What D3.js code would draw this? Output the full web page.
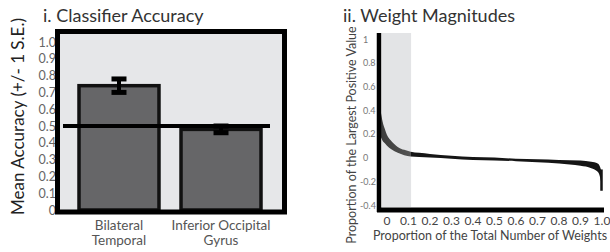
<!DOCTYPE html>
<html>
<head>
<meta charset="utf-8">
<script src="https://cdnjs.cloudflare.com/ajax/libs/d3/7.8.5/d3.min.js"></script>
<style>
  body { margin: 0; background: #fff; }
  text { font-family: Lato, "Open Sans", sans-serif; }
</style>
</head>
<body>
<div class="chart_container"></div>
<script>
// 左圖資料
const categories = ['Bilateral|Temporal', 'Inferior Occipital|Gyrus']
const accuracy = [0.74, 0.48]
const stdErr = [0.04, 0.02]
const chance = 0.5
const accTicks = [0, 0.1, 0.2, 0.3, 0.4, 0.5, 0.6, 0.7, 0.8, 0.9, 1.0]

// 右圖資料 (權重分布的上下緣)
const weightX = [-0.03, -0.02, -0.01, 0, 0.02, 0.05, 0.08, 0.11, 0.15, 0.2, 0.3, 0.4, 0.5, 0.6, 0.7, 0.8, 0.9, 0.95, 0.98, 0.995, 1.0]
const weightUpper = [0.40, 0.30, 0.24, 0.19, 0.14, 0.09, 0.065, 0.05, 0.04, 0.03, 0.015, 0.005, 0, -0.01, -0.015, -0.02, -0.025, -0.035, -0.05, -0.1, -0.28]
const weightLower = [0.18, 0.14, 0.12, 0.10, 0.07, 0.04, 0.02, 0.01, 0.005, 0, -0.01, -0.02, -0.025, -0.03, -0.04, -0.05, -0.07, -0.09, -0.12, -0.2, -0.28]
const weightYTicks = [1, 0.8, 0.6, 0.4, 0.2, 0, -0.2, -0.4]
const weightXTicks = [0, 0.1, 0.2, 0.3, 0.4, 0.5, 0.6, 0.7, 0.8, 0.9, 1.0]
const shadedRange = [-0.023, 0.112]

const svg = d3.select('.chart_container').append('svg')
    .attr('width', 610).attr('height', 252)

// ---------- i. Classifier Accuracy ----------
const left = svg.append('g')
const frame = { x0: 57.5, x1: 284.5, y0: 31.5, y1: 212 }
const yAcc = d3.scaleLinear().domain([0, 1]).range([210, 42])
const xAcc = d3.scaleBand().domain(categories).range([79, 261]).paddingInner(0.216).paddingOuter(0)

left.append('text').attr('x', 43).attr('y', 22)
    .text('i. Classifier Accuracy')
    .style('font-size', '18px').style('fill', '#333')

left.append('text')
    .attr('transform', `translate(24,${(20 + 213) / 2}) rotate(-90)`)
    .attr('text-anchor', 'middle')
    .text('Mean Accuracy  (+/- 1 S.E.)')
    .style('font-size', '17px').style('fill', '#222')

// 刻度文字 (被外框蓋住一部分)
left.append('g').selectAll('text').data(accTicks).enter().append('text')
    .attr('x', 56).attr('y', d => yAcc(d))
    .attr('text-anchor', 'end').attr('dominant-baseline', 'central')
    .text(d => d === 0 ? '0' : d3.format('.1f')(d))
    .style('font-size', '12.5px').style('fill', '#666')

left.append('rect')
    .attr('x', frame.x0).attr('y', frame.y0)
    .attr('width', frame.x1 - frame.x0).attr('height', frame.y1 - frame.y0)
    .style('fill', '#e6e7e9')

left.append('g').selectAll('rect').data(categories).enter().append('rect')
    .attr('x', d => xAcc(d))
    .attr('y', (d, i) => yAcc(accuracy[i]))
    .attr('width', xAcc.bandwidth())
    .attr('height', (d, i) => yAcc(0) - yAcc(accuracy[i]))
    .style('fill', '#666668').style('stroke', '#111').style('stroke-width', 3.5)

left.append('line')
    .attr('x1', 63).attr('x2', 270)
    .attr('y1', yAcc(chance)).attr('y2', yAcc(chance))
    .style('stroke', '#000').style('stroke-width', 4)

// 誤差線
const errG = left.append('g').selectAll('g').data(categories).enter().append('g')
    .attr('transform', d => `translate(${xAcc(d) + xAcc.bandwidth() / 2},0)`)
errG.append('line')
    .attr('y1', (d, i) => yAcc(accuracy[i] - stdErr[i]))
    .attr('y2', (d, i) => yAcc(accuracy[i] + stdErr[i]))
    .style('stroke', '#000').style('stroke-width', 4)
errG.selectAll('.cap').data((d, i) => [accuracy[i] - stdErr[i], accuracy[i] + stdErr[i]])
    .enter().append('line').attr('class', 'cap')
    .attr('x1', -7.5).attr('x2', 7.5)
    .attr('y1', d => yAcc(d)).attr('y2', d => yAcc(d))
    .style('stroke', '#000').style('stroke-width', 5)

left.append('rect')
    .attr('x', frame.x0).attr('y', frame.y0)
    .attr('width', frame.x1 - frame.x0).attr('height', frame.y1 - frame.y0)
    .style('fill', 'none').style('stroke', '#000').style('stroke-width', 5)

categories.forEach(c => {
    const lines = c.split('|')
    left.append('text')
        .attr('x', xAcc(c) + xAcc.bandwidth() / 2).attr('y', 230)
        .attr('text-anchor', 'middle')
        .selectAll('tspan').data(lines).enter().append('tspan')
        .attr('x', xAcc(c) + xAcc.bandwidth() / 2)
        .attr('dy', (d, i) => i === 0 ? 0 : 15)
        .text(d => d)
        .style('font-size', '13.5px').style('fill', '#555')
})

// ---------- ii. Weight Magnitudes ----------
const right = svg.append('g')
const xW = d3.scaleLinear().domain([0, 1]).range([387, 602])
const yW = d3.scaleLinear().domain([-0.4, 1]).range([205, 39])

right.append('text').attr('x', 343).attr('y', 22)
    .text('ii. Weight Magnitudes')
    .style('font-size', '18px').style('fill', '#333')

right.append('rect')
    .attr('x', xW(shadedRange[0])).attr('y', 33)
    .attr('width', xW(shadedRange[1]) - xW(shadedRange[0]))
    .attr('height', 207 - 33)
    .style('fill', '#e3e4e6')

right.append('text')
    .attr('transform', `translate(356,${(30 + 240) / 2}) rotate(-90)`)
    .attr('text-anchor', 'middle')
    .text('Proportion of the Largest Positive Value')
    .style('font-size', '12.5px').style('fill', '#444')

right.append('g').selectAll('text').data(weightYTicks).enter().append('text')
    .attr('x', d => d < 0 ? 360 : 363).attr('y', d => yW(d))
    .attr('dominant-baseline', 'central')
    .text(d => d)
    .style('font-size', '9px').style('fill', '#777')

// 曲線陰影區內為灰色
const grad = svg.append('defs').append('linearGradient')
    .attr('id', 'bandGrad').attr('gradientUnits', 'userSpaceOnUse')
    .attr('x1', xW(-0.04)).attr('x2', xW(1)).attr('y1', 0).attr('y2', 0)
const cut = (xW(shadedRange[1]) - xW(-0.04)) / (xW(1) - xW(-0.04))
grad.append('stop').attr('offset', 0).attr('stop-color', '#3a3a3a')
grad.append('stop').attr('offset', cut).attr('stop-color', '#555')
grad.append('stop').attr('offset', cut).attr('stop-color', '#151515')
grad.append('stop').attr('offset', 1).attr('stop-color', '#151515')

const band = weightX.map((x, i) => ({ x: x, hi: weightUpper[i], lo: weightLower[i] }))
const areaGen = d3.area().curve(d3.curveMonotoneX)
    .x(d => xW(d.x)).y0(d => yW(d.lo)).y1(d => yW(d.hi))
right.append('path').attr('d', areaGen(band))
    .style('fill', 'url(#bandGrad)')
right.append('line')
    .attr('x1', xW(1) - 0.5).attr('x2', xW(1) - 0.5)
    .attr('y1', yW(-0.1)).attr('y2', yW(-0.28))
    .style('stroke', '#151515').style('stroke-width', 2.5)

// 軸線
right.append('line')
    .attr('x1', 379).attr('x2', 379).attr('y1', 33).attr('y2', 212)
    .style('stroke', '#000').style('stroke-width', 4.5)
right.append('line')
    .attr('x1', 377).attr('x2', 604).attr('y1', 210).attr('y2', 210)
    .style('stroke', '#000').style('stroke-width', 5)

right.append('g').selectAll('text').data(weightXTicks).enter().append('text')
    .attr('x', d => xW(d)).attr('y', 225)
    .attr('text-anchor', 'middle')
    .text(d => d === 0 ? '0' : d3.format('.1f')(d))
    .style('font-size', '12px').style('fill', '#444')

right.append('text')
    .attr('x', 490).attr('y', 240).attr('text-anchor', 'middle')
    .text('Proportion of the Total Number of Weights')
    .style('font-size', '12.5px').style('fill', '#444')
</script>
</body>
</html>
